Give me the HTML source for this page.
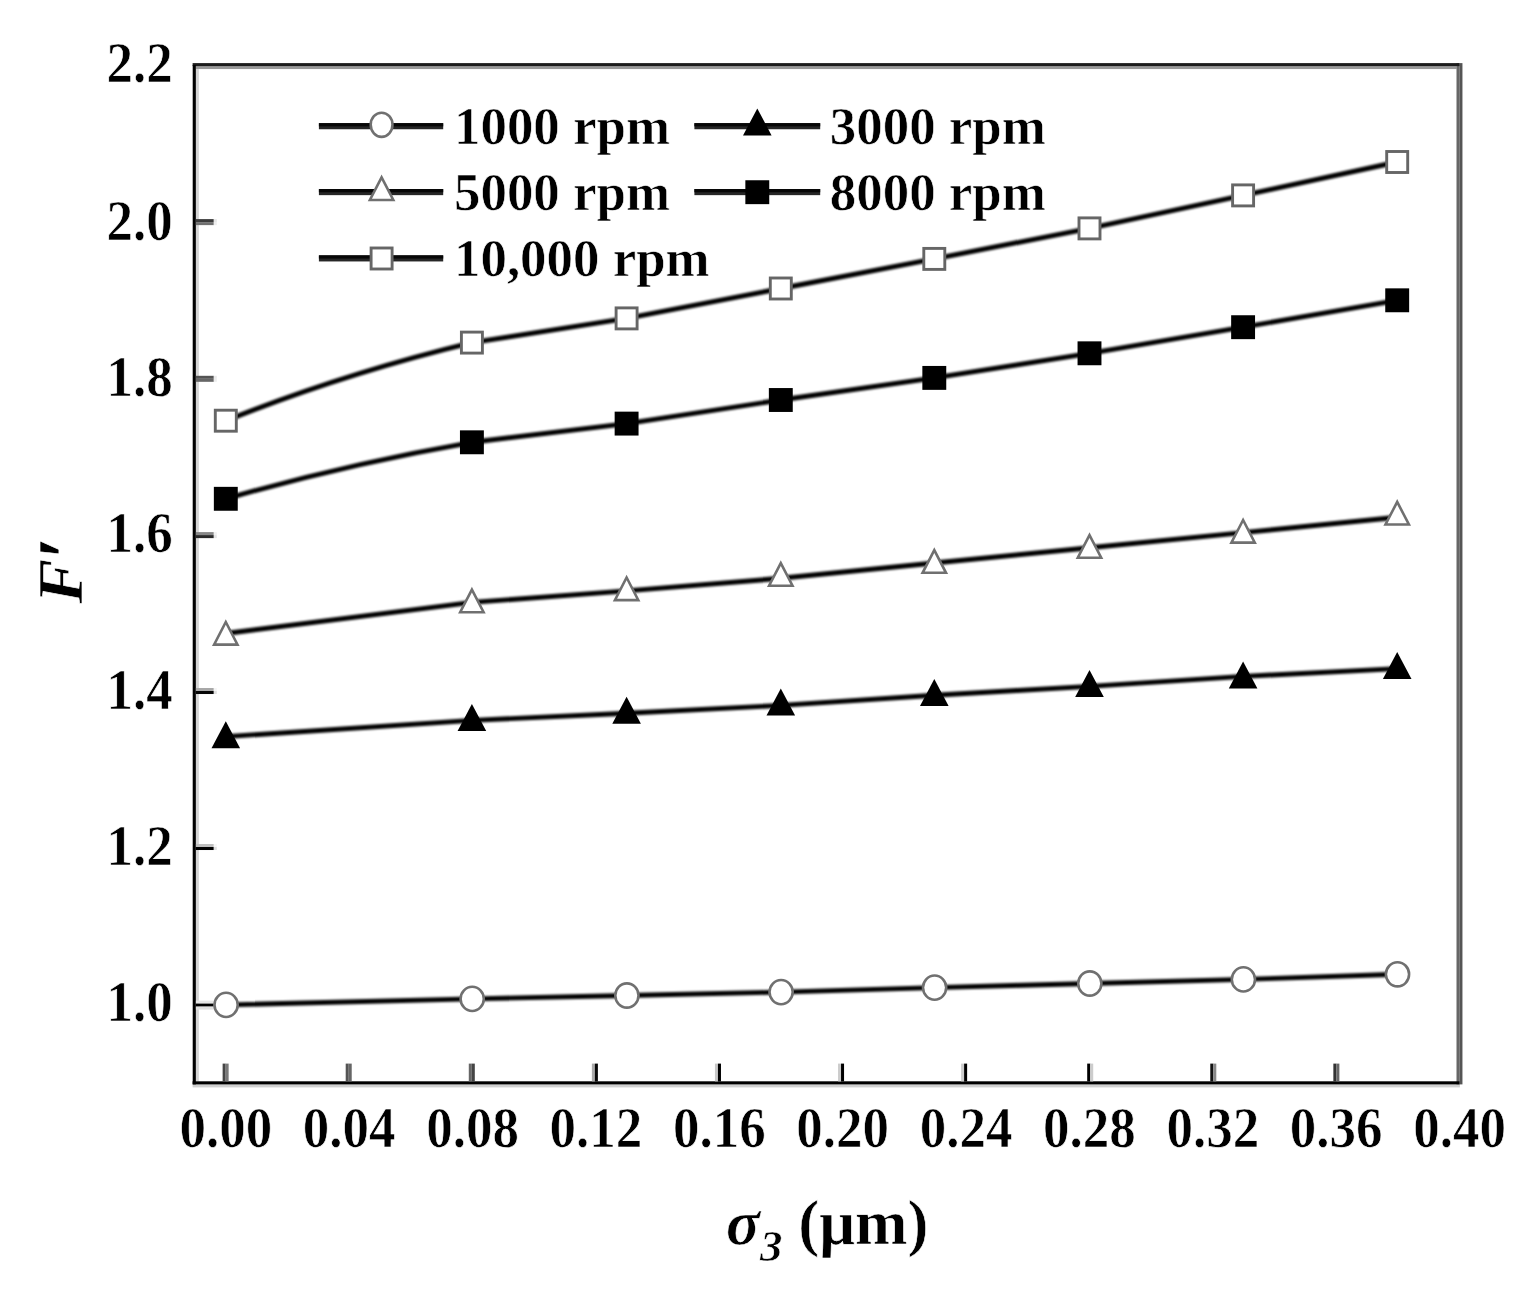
<!DOCTYPE html>
<html lang="en"><head><meta charset="utf-8"><title>Chart</title>
<style>
html,body{margin:0;padding:0;background:#fff;}
body{width:1525px;height:1297px;overflow:hidden;}
svg{display:block;}
text{font-family:"Liberation Serif","DejaVu Serif",serif;font-weight:bold;fill:#000;stroke:#fff;stroke-width:0.6px;}
.tk{font-size:53px;}
.lg{font-size:52.9px;}
.ti{font-size:63px;}
</style></head><body>
<svg width="1525" height="1297" viewBox="0 0 1525 1297">
<defs><filter id="soft" x="0" y="0" width="1525" height="1297" filterUnits="userSpaceOnUse"><feGaussianBlur stdDeviation="0.95"/></filter><filter id="soft2" x="0" y="0" width="1525" height="1297" filterUnits="userSpaceOnUse"><feGaussianBlur stdDeviation="0.6"/></filter></defs>
<rect width="1525" height="1297" fill="#fff"/>
<g id="frame">
<rect x="195.8" y="66.05" width="1260.8" height="3" fill="#999"/>
<rect x="195.85" y="69" width="3" height="1012.4" fill="#d4d4d4"/>
<rect x="192.6" y="1084.4" width="1267.3" height="3" fill="#d0d0d0"/>
<rect x="1456.5" y="63.1" width="3" height="1021.3" fill="#666"/>
<rect x="1459.45" y="63.1" width="3" height="1021.3" fill="#555"/>
<rect x="192.6" y="63.1" width="1266.9" height="3" fill="#1c1c1c"/>
<rect x="192.7" y="65.1" width="3.15" height="1019.3" fill="#000"/>
<rect x="192.6" y="1081.3" width="1266.9" height="3.1" fill="#000"/>
</g>
<g id="ticks">
<rect x="195.9" y="219.1" width="17.9" height="3.02" fill="#3b3b3b"/>
<rect x="213.8" y="219.1" width="3" height="3.02" fill="#e7e7e7"/>
<rect x="195.9" y="222.1" width="17.9" height="3.02" fill="#707070"/>
<rect x="213.8" y="222.1" width="3" height="3.02" fill="#eeeeee"/>
<rect x="195.9" y="375.8" width="17.9" height="3.02" fill="#545454"/>
<rect x="213.8" y="375.8" width="3" height="3.02" fill="#eaeaea"/>
<rect x="195.9" y="378.8" width="17.9" height="3.02" fill="#666666"/>
<rect x="213.8" y="378.8" width="3" height="3.02" fill="#ededed"/>
<rect x="195.9" y="532.1" width="17.9" height="3.02" fill="#878787"/>
<rect x="213.8" y="532.1" width="3" height="3.02" fill="#f1f1f1"/>
<rect x="195.9" y="535.1" width="17.9" height="3.02" fill="#292929"/>
<rect x="213.8" y="535.1" width="3" height="3.02" fill="#e5e5e5"/>
<rect x="195.9" y="688" width="17.9" height="3.02" fill="#a8a8a8"/>
<rect x="213.8" y="688" width="3" height="3.02" fill="#f5f5f5"/>
<rect x="195.9" y="691" width="17.9" height="3.02" fill="#050505"/>
<rect x="213.8" y="691" width="3" height="3.02" fill="#e1e1e1"/>
<rect x="195.9" y="844" width="17.9" height="3.02" fill="#bfbfbf"/>
<rect x="213.8" y="844" width="3" height="3.02" fill="#f7f7f7"/>
<rect x="195.9" y="847" width="17.9" height="3.02" fill="#000000"/>
<rect x="213.8" y="847" width="3" height="3.02" fill="#e0e0e0"/>
<rect x="195.9" y="1000.6" width="17.9" height="3.02" fill="#e6e6e6"/>
<rect x="213.8" y="1000.6" width="3" height="3.02" fill="#fcfcfc"/>
<rect x="195.9" y="1003.6" width="17.9" height="3.02" fill="#000000"/>
<rect x="213.8" y="1003.6" width="3" height="3.02" fill="#e0e0e0"/>
<rect x="195.9" y="1006.6" width="17.9" height="3.02" fill="#e0e0e0"/>
<rect x="213.8" y="1006.6" width="3" height="3.02" fill="#fbfbfb"/>
<rect x="222.62" y="1063.6" width="3.02" height="17.8" fill="#454545"/>
<rect x="225.62" y="1063.6" width="3.02" height="17.8" fill="#787878"/>
<rect x="345.7" y="1063.6" width="3.02" height="17.8" fill="#545454"/>
<rect x="348.7" y="1063.6" width="3.02" height="17.8" fill="#666666"/>
<rect x="468.78" y="1063.6" width="3.02" height="17.8" fill="#666666"/>
<rect x="471.79" y="1063.6" width="3.02" height="17.8" fill="#454545"/>
<rect x="591.87" y="1063.6" width="3.02" height="17.8" fill="#ababab"/>
<rect x="594.87" y="1063.6" width="3.02" height="17.8" fill="#080808"/>
<rect x="714.95" y="1063.6" width="3.02" height="17.8" fill="#c7c7c7"/>
<rect x="717.95" y="1063.6" width="3.02" height="17.8" fill="#000000"/>
<rect x="838.03" y="1063.6" width="3.02" height="17.8" fill="#cccccc"/>
<rect x="841.03" y="1063.6" width="3.02" height="17.8" fill="#000000"/>
<rect x="961.11" y="1063.6" width="3.02" height="17.8" fill="#cccccc"/>
<rect x="964.11" y="1063.6" width="3.02" height="17.8" fill="#000000"/>
<rect x="1087.2" y="1063.6" width="3.02" height="17.8" fill="#000000"/>
<rect x="1090.2" y="1063.6" width="3.02" height="17.8" fill="#cccccc"/>
<rect x="1210.28" y="1063.6" width="3.02" height="17.8" fill="#121212"/>
<rect x="1213.28" y="1063.6" width="3.02" height="17.8" fill="#878787"/>
<rect x="1333.36" y="1063.6" width="3.02" height="17.8" fill="#333333"/>
<rect x="1336.36" y="1063.6" width="3.02" height="17.8" fill="#666666"/>
</g>
<g id="ylabels" class="tk" text-anchor="end">
<text transform="translate(172.8 81.8) scale(1 1.08)">2.2</text>
<text transform="translate(172.8 239.5) scale(1 1.08)">2.0</text>
<text transform="translate(172.8 395.6) scale(1 1.08)">1.8</text>
<text transform="translate(172.8 552.2) scale(1 1.08)">1.6</text>
<text transform="translate(172.8 708.9) scale(1 1.08)">1.4</text>
<text transform="translate(172.8 864.8) scale(1 1.08)">1.2</text>
<text transform="translate(172.8 1021.1) scale(1 1.08)">1.0</text>
</g>
<g id="xlabels" class="tk" text-anchor="middle">
<text transform="translate(225.8 1146.6) scale(1 1.08)">0.00</text>
<text transform="translate(349.18 1146.6) scale(1 1.08)">0.04</text>
<text transform="translate(472.56 1146.6) scale(1 1.08)">0.08</text>
<text transform="translate(595.94 1146.6) scale(1 1.08)">0.12</text>
<text transform="translate(719.32 1146.6) scale(1 1.08)">0.16</text>
<text transform="translate(842.7 1146.6) scale(1 1.08)">0.20</text>
<text transform="translate(966.08 1146.6) scale(1 1.08)">0.24</text>
<text transform="translate(1089.46 1146.6) scale(1 1.08)">0.28</text>
<text transform="translate(1212.84 1146.6) scale(1 1.08)">0.32</text>
<text transform="translate(1336.22 1146.6) scale(1 1.08)">0.36</text>
<text transform="translate(1459.6 1146.6) scale(1 1.08)">0.40</text>
</g>
<text class="ti" transform="translate(81.6 603.8) rotate(-90) scale(1.07 1)" font-style="italic">F<tspan font-size="80" dx="-1.7" dy="11.4">′</tspan></text>
<text class="ti" x="726" y="1243.7"><tspan font-style="italic">σ</tspan><tspan font-style="italic" font-size="45" dy="17.5">3</tspan><tspan dy="-17.5"> (μm)</tspan></text>
<g id="data">
<path d="M225.8 1004.9L471.9 998.9L626.6 995.5L780.8 992.1L934.3 987.6L1089.5 983.5L1243.1 979.4L1397.2 974.3" fill="none" stroke="#000" stroke-width="4.9" stroke-linejoin="round" filter="url(#soft)"/>
<g filter="url(#soft2)">
<ellipse cx="226.1" cy="1004.9" rx="11.6" ry="12.1" fill="#fff" stroke="#707070" stroke-width="2.6"/>
<ellipse cx="472.2" cy="998.9" rx="11.6" ry="12.1" fill="#fff" stroke="#707070" stroke-width="2.6"/>
<ellipse cx="626.9" cy="995.5" rx="11.6" ry="12.1" fill="#fff" stroke="#707070" stroke-width="2.6"/>
<ellipse cx="781.1" cy="992.1" rx="11.6" ry="12.1" fill="#fff" stroke="#707070" stroke-width="2.6"/>
<ellipse cx="934.6" cy="987.6" rx="11.6" ry="12.1" fill="#fff" stroke="#707070" stroke-width="2.6"/>
<ellipse cx="1089.8" cy="983.5" rx="11.6" ry="12.1" fill="#fff" stroke="#707070" stroke-width="2.6"/>
<ellipse cx="1243.4" cy="979.4" rx="11.6" ry="12.1" fill="#fff" stroke="#707070" stroke-width="2.6"/>
<ellipse cx="1397.5" cy="974.3" rx="11.6" ry="12.1" fill="#fff" stroke="#707070" stroke-width="2.6"/>
</g>
<path d="M225.8 736.6L471.9 720.4L626.6 713.3L780.8 705.4L934.3 695.3L1089.5 686.4L1243.1 676.4L1397.2 668.6" fill="none" stroke="#000" stroke-width="4.9" stroke-linejoin="round" filter="url(#soft)"/>
<g filter="url(#soft2)">
<polygon points="225.8,721.2 240.1,748.2 211.5,748.2" fill="#000"/>
<polygon points="471.9,704.1 486.2,731.1 457.6,731.1" fill="#000"/>
<polygon points="626.6,696.7 640.9,723.7 612.3,723.7" fill="#000"/>
<polygon points="780.8,688.5 795.1,715.5 766.5,715.5" fill="#000"/>
<polygon points="934.3,679.1 948.6,706.1 920,706.1" fill="#000"/>
<polygon points="1089.5,670.1 1103.8,697.1 1075.2,697.1" fill="#000"/>
<polygon points="1243.1,661.5 1257.4,688.5 1228.8,688.5" fill="#000"/>
<polygon points="1397.2,652 1411.5,679 1382.9,679" fill="#000"/>
</g>
<path d="M225.8 633.5L471.9 602.4L626.6 590.9L780.8 578.3L934.3 563L1089.5 547.7L1243.1 532.6L1397.2 517.3" fill="none" stroke="#000" stroke-width="4.9" stroke-linejoin="round" filter="url(#soft)"/>
<g filter="url(#soft2)">
<polygon points="225.8,622 237.5,644.6 214.1,644.6" fill="#fff" stroke="#707070" stroke-width="2.6" stroke-linejoin="miter"/>
<polygon points="471.9,589.6 483.6,612.2 460.2,612.2" fill="#fff" stroke="#707070" stroke-width="2.6" stroke-linejoin="miter"/>
<polygon points="626.6,577.5 638.3,600.1 614.9,600.1" fill="#fff" stroke="#707070" stroke-width="2.6" stroke-linejoin="miter"/>
<polygon points="780.8,563.1 792.5,585.7 769.1,585.7" fill="#fff" stroke="#707070" stroke-width="2.6" stroke-linejoin="miter"/>
<polygon points="934.3,550.2 946,572.8 922.6,572.8" fill="#fff" stroke="#707070" stroke-width="2.6" stroke-linejoin="miter"/>
<polygon points="1089.5,535.1 1101.2,557.7 1077.8,557.7" fill="#fff" stroke="#707070" stroke-width="2.6" stroke-linejoin="miter"/>
<polygon points="1243.1,520 1254.8,542.6 1231.4,542.6" fill="#fff" stroke="#707070" stroke-width="2.6" stroke-linejoin="miter"/>
<polygon points="1397.2,501.9 1408.9,524.5 1385.5,524.5" fill="#fff" stroke="#707070" stroke-width="2.6" stroke-linejoin="miter"/>
</g>
<path d="M225.8 498.8Q344.85 464.55 471.9 442.3L626.6 423.6L780.8 400L934.3 377.9L1089.5 353.3L1243.1 327.2L1397.2 300.3" fill="none" stroke="#000" stroke-width="4.9" stroke-linejoin="round" filter="url(#soft)"/>
<g filter="url(#soft2)">
<rect x="213.85" y="486.85" width="23.9" height="23.9" fill="#000"/>
<rect x="459.95" y="430.35" width="23.9" height="23.9" fill="#000"/>
<rect x="614.65" y="411.65" width="23.9" height="23.9" fill="#000"/>
<rect x="768.85" y="388.05" width="23.9" height="23.9" fill="#000"/>
<rect x="922.35" y="365.95" width="23.9" height="23.9" fill="#000"/>
<rect x="1077.55" y="341.35" width="23.9" height="23.9" fill="#000"/>
<rect x="1231.15" y="315.25" width="23.9" height="23.9" fill="#000"/>
<rect x="1385.25" y="288.35" width="23.9" height="23.9" fill="#000"/>
</g>
<path d="M225.8 420.7Q344.85 373.25 471.9 342.6L626.6 318.4L780.8 288.5L934.3 258.9L1089.5 228.4L1243.1 195.4L1397.2 162" fill="none" stroke="#000" stroke-width="4.9" stroke-linejoin="round" filter="url(#soft)"/>
<g filter="url(#soft2)">
<rect x="215.3" y="410.2" width="21" height="21" fill="#fff" stroke="#666" stroke-width="2.9"/>
<rect x="461.4" y="332.1" width="21" height="21" fill="#fff" stroke="#666" stroke-width="2.9"/>
<rect x="616.1" y="307.9" width="21" height="21" fill="#fff" stroke="#666" stroke-width="2.9"/>
<rect x="770.3" y="278" width="21" height="21" fill="#fff" stroke="#666" stroke-width="2.9"/>
<rect x="923.8" y="248.4" width="21" height="21" fill="#fff" stroke="#666" stroke-width="2.9"/>
<rect x="1079" y="217.9" width="21" height="21" fill="#fff" stroke="#666" stroke-width="2.9"/>
<rect x="1232.6" y="184.9" width="21" height="21" fill="#fff" stroke="#666" stroke-width="2.9"/>
<rect x="1386.7" y="151.5" width="21" height="21" fill="#fff" stroke="#666" stroke-width="2.9"/>
</g>
</g>
<g id="legend">
<rect x="318.9" y="123.15" width="124.3" height="6.1" fill="#262626"/>
<rect x="318.9" y="123.15" width="124.3" height="3.2" fill="#060606"/>
<ellipse cx="381.6" cy="124.8" rx="10.9" ry="12.1" fill="#fff" stroke="#707070" stroke-width="2.6"/>
<text class="lg" x="454" y="143.8">1000 rpm</text>
<rect x="318.9" y="189.05" width="124.3" height="6.1" fill="#262626"/>
<rect x="318.9" y="189.05" width="124.3" height="3.2" fill="#060606"/>
<polygon points="381.6,177.4 393.3,200 369.9,200" fill="#fff" stroke="#707070" stroke-width="2.6" stroke-linejoin="miter"/>
<text class="lg" x="454" y="210.3">5000 rpm</text>
<rect x="318.9" y="255.35" width="124.3" height="6.1" fill="#262626"/>
<rect x="318.9" y="255.35" width="124.3" height="3.2" fill="#060606"/>
<rect x="371.1" y="248" width="21" height="21" fill="#fff" stroke="#666" stroke-width="2.9"/>
<text class="lg" x="454" y="276.4">10,000 rpm</text>
<rect x="694.4" y="123.15" width="125.8" height="6.1" fill="#262626"/>
<rect x="694.4" y="123.15" width="125.8" height="3.2" fill="#060606"/>
<polygon points="757.3,108.4 771.6,135.4 743,135.4" fill="#000"/>
<text class="lg" x="829.8" y="143.8">3000 rpm</text>
<rect x="694.4" y="189.05" width="125.8" height="6.1" fill="#262626"/>
<rect x="694.4" y="189.05" width="125.8" height="3.2" fill="#060606"/>
<rect x="745.35" y="180.25" width="23.9" height="23.9" fill="#000"/>
<text class="lg" x="829.8" y="210.3">8000 rpm</text>
</g>
</svg></body></html>
